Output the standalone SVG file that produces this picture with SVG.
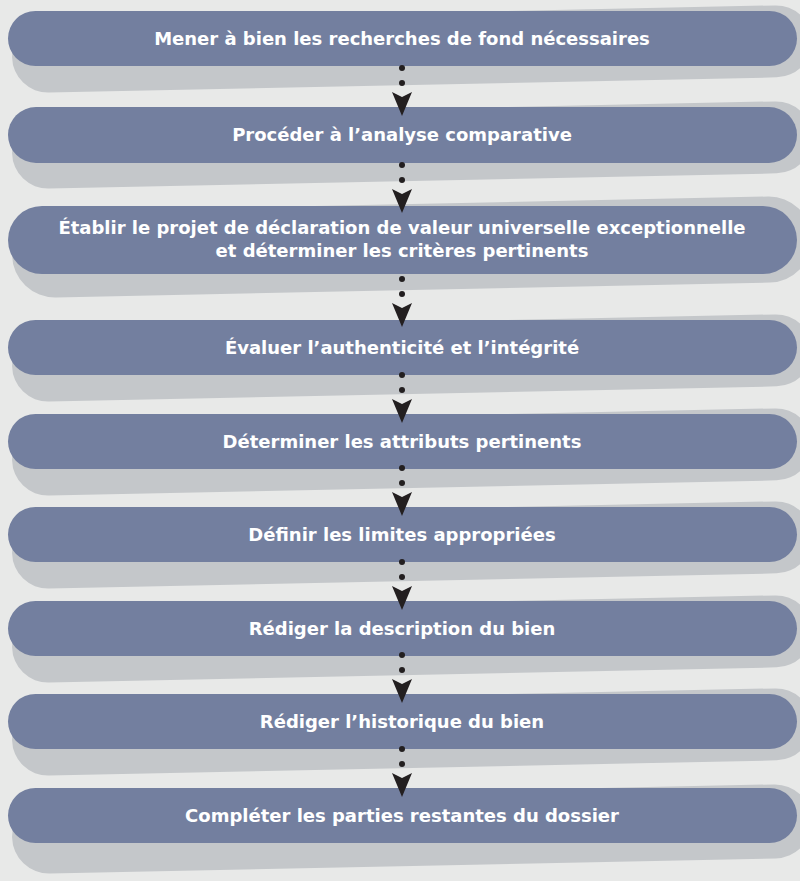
<svg xmlns="http://www.w3.org/2000/svg" xmlns:xlink="http://www.w3.org/1999/xlink" width="800" height="881" viewBox="0 0 800 881">
  <defs>
    <style>
      .bg { fill: #e8e9e8; }
      .shadow { fill: #c4c7ca; }
      .pill { fill: #737f9f; }
      .label { fill: #ffffff; font-family: "DejaVu Sans", "Open Sans", sans-serif; font-weight: bold; font-size: 18px; text-anchor: middle; }
      .dot { fill: #231f20; }
      .head { fill: #231f20; }
    </style>
    <!-- two dots followed by a dart-shaped arrowhead; tip of the head at the origin -->
    <g id="link">
      <circle class="dot" cx="0" cy="-48" r="3"/>
      <circle class="dot" cx="0" cy="-33" r="3"/>
      <path class="head" d="M-10,-24 L0,-19 L10,-24 L0,0 Z"/>
    </g>
  </defs>

  <rect class="bg" x="0" y="0" width="800" height="881"/>

  <g id="step1">
    <rect class="shadow" x="12" y="13" width="800" height="72" rx="36" transform="rotate(-1.2 412 49)"/>
    <rect class="pill" x="8" y="11" width="789" height="55" rx="27.5"/>
    <text class="label" x="402" y="45">Mener à bien les recherches de fond nécessaires</text>
  </g>

  <g id="step2">
    <rect class="shadow" x="12" y="109" width="800" height="72" rx="36" transform="rotate(-1.2 412 145)"/>
    <rect class="pill" x="8" y="107" width="789" height="56" rx="28"/>
    <text class="label" x="402" y="141">Procéder à l’analyse comparative</text>
  </g>

  <g id="step3">
    <rect class="shadow" x="12" y="204" width="800" height="86" rx="43" transform="rotate(-1.2 412 247)"/>
    <rect class="pill" x="8" y="206" width="789" height="68" rx="34"/>
    <text class="label" x="402" y="234">Établir le projet de déclaration de valeur universelle exceptionnelle</text>
    <text class="label" x="402" y="257">et déterminer les critères pertinents</text>
  </g>

  <g id="step4">
    <rect class="shadow" x="12" y="322" width="800" height="72" rx="36" transform="rotate(-1.2 412 358)"/>
    <rect class="pill" x="8" y="320" width="789" height="55" rx="27.5"/>
    <text class="label" x="402" y="354">Évaluer l’authenticité et l’intégrité</text>
  </g>

  <g id="step5">
    <rect class="shadow" x="12" y="416" width="800" height="72" rx="36" transform="rotate(-1.2 412 452)"/>
    <rect class="pill" x="8" y="414" width="789" height="55" rx="27.5"/>
    <text class="label" x="402" y="448">Déterminer les attributs pertinents</text>
  </g>

  <g id="step6">
    <rect class="shadow" x="12" y="509" width="800" height="72" rx="36" transform="rotate(-1.2 412 545)"/>
    <rect class="pill" x="8" y="507" width="789" height="55" rx="27.5"/>
    <text class="label" x="402" y="541">Définir les limites appropriées</text>
  </g>

  <g id="step7">
    <rect class="shadow" x="12" y="603" width="800" height="72" rx="36" transform="rotate(-1.2 412 639)"/>
    <rect class="pill" x="8" y="601" width="789" height="55" rx="27.5"/>
    <text class="label" x="402" y="635">Rédiger la description du bien</text>
  </g>

  <g id="step8">
    <rect class="shadow" x="12" y="696" width="800" height="72" rx="36" transform="rotate(-1.2 412 732)"/>
    <rect class="pill" x="8" y="694" width="789" height="55" rx="27.5"/>
    <text class="label" x="402" y="728">Rédiger l’historique du bien</text>
  </g>

  <g id="step9">
    <rect class="shadow" x="12" y="792" width="800" height="74" rx="37" transform="rotate(-1.2 412 829)"/>
    <rect class="pill" x="8" y="788" width="789" height="55" rx="27.5"/>
    <text class="label" x="402" y="822">Compléter les parties restantes du dossier</text>
  </g>

  <g id="connectors">
    <use xlink:href="#link" x="402" y="116"/>
    <use xlink:href="#link" x="402" y="213"/>
    <use xlink:href="#link" x="402" y="327"/>
    <use xlink:href="#link" x="402" y="423"/>
    <use xlink:href="#link" x="402" y="516"/>
    <use xlink:href="#link" x="402" y="610"/>
    <use xlink:href="#link" x="402" y="703"/>
    <use xlink:href="#link" x="402" y="797"/>
  </g>
</svg>
